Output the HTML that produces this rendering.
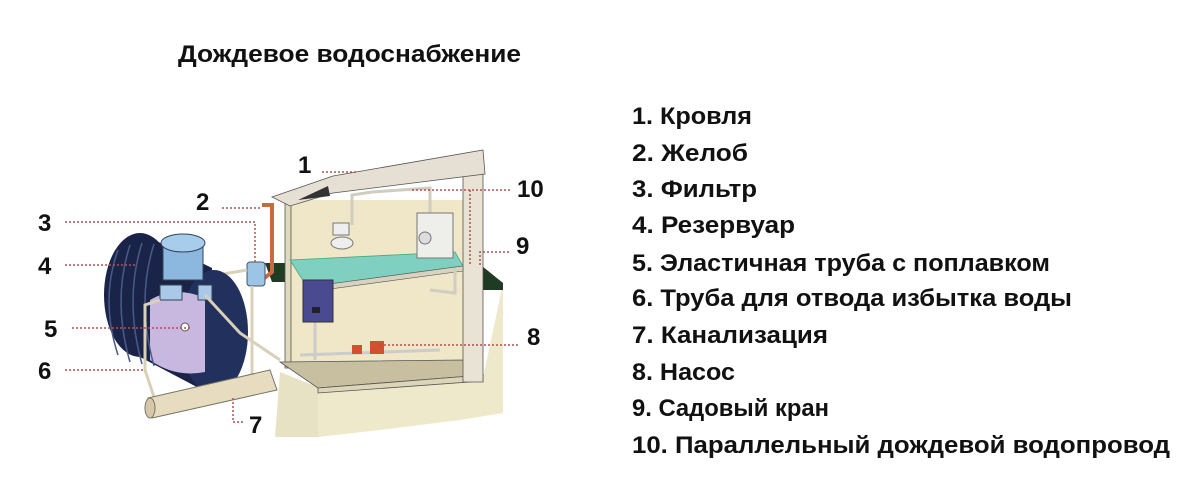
<!DOCTYPE html>
<html><head><meta charset="utf-8"><style>
html,body{margin:0;padding:0;background:#fff;width:1180px;height:479px;overflow:hidden}
svg{display:block}
.t{font-family:"Liberation Sans","Noto Sans CJK SC",sans-serif;font-weight:bold;font-size:24px;fill:#111}
.n{font-family:"Liberation Sans",sans-serif;font-weight:bold;font-size:24px;fill:#111}
.d{stroke:#b05050;stroke-width:1.5;stroke-dasharray:2 2;fill:none}
</style></head><body>
<svg width="1180" height="479" viewBox="0 0 1180 479">
<text class="t" x="178" y="62" textLength="343" lengthAdjust="spacingAndGlyphs">Дождевое водоснабжение</text>
<g class="t">
<text x="632" y="124" textLength="120" lengthAdjust="spacingAndGlyphs">1. Кровля</text>
<text x="632" y="161" textLength="116" lengthAdjust="spacingAndGlyphs">2. Желоб</text>
<text x="632" y="197" textLength="125" lengthAdjust="spacingAndGlyphs">3. Фильтр</text>
<text x="632" y="233" textLength="163" lengthAdjust="spacingAndGlyphs">4. Резервуар</text>
<text x="632" y="271" textLength="418" lengthAdjust="spacingAndGlyphs">5. Эластичная труба с поплавком</text>
<text x="632" y="306" textLength="440" lengthAdjust="spacingAndGlyphs">6. Труба для отвода избытка воды</text>
<text x="632" y="343" textLength="196" lengthAdjust="spacingAndGlyphs">7. Канализация</text>
<text x="632" y="380" textLength="103" lengthAdjust="spacingAndGlyphs">8. Насос</text>
<text x="632" y="416" textLength="197" lengthAdjust="spacingAndGlyphs">9. Садовый кран</text>
<text x="632" y="453" textLength="538" lengthAdjust="spacingAndGlyphs">10. Параллельный дождевой водопровод</text>
</g>
<!-- foundation -->
<polygon points="280,372 320,388 318,437 275,437" fill="#e8e2c4"/>
<polygon points="318,388 483,378 503,283 503,413 460,420 380,430 318,437" fill="#efe9cc"/>
<polygon points="477,262 503,283 503,290 477,290" fill="#1f3b24"/>
<polygon points="265,263 287,263 287,282 272,282" fill="#1f3b24"/>
<!-- back wall -->
<rect x="285" y="200" width="180" height="165" fill="#efe7c8"/>
<rect x="285" y="200" width="6" height="168" fill="#e0d8bc" stroke="#555" stroke-width="0.8"/>
<!-- floor slab -->
<polygon points="280,362 463,360 483,375 318,388" fill="#c8bfa0" stroke="#555" stroke-width="0.8"/>
<polygon points="318,388 483,375 483,381 318,393" fill="#ddd5b8" stroke="#555" stroke-width="0.8"/>
<!-- right column -->
<polygon points="463,175 483,170 483,382 463,382" fill="#e9e3d6" stroke="#555" stroke-width="0.8"/>
<!-- roof -->
<polygon points="272,197 333,176 483,150 485,174 333,193 290,206" fill="#e6e0d4" stroke="#555" stroke-width="0.8"/>
<polygon points="298,200 328,186 330,196" fill="#333"/>
<!-- shelf -->
<polygon points="290,260 455,252 463,266 307,287" fill="#7fd0c0" stroke="#4a7" stroke-width="0.8"/>
<polygon points="307,287 463,266 463,271 308,292" fill="#d8d2c0" stroke="#555" stroke-width="0.6"/>
<!-- pipes in house -->
<polyline points="372,192 430,188 430,215" fill="none" stroke="#d0ccc0" stroke-width="3"/>
<polyline points="372,192 352,195 352,225" fill="none" stroke="#d0ccc0" stroke-width="3"/>
<polyline points="455,268 455,293 430,290" fill="none" stroke="#d0ccc0" stroke-width="3"/>
<line x1="315" y1="320" x2="315" y2="360" stroke="#ccc" stroke-width="3"/>
<line x1="300" y1="355" x2="440" y2="350" stroke="#ccc" stroke-width="3"/>
<!-- toilet -->
<rect x="333" y="223" width="16" height="12" fill="#eee" stroke="#777"/>
<ellipse cx="342" cy="243" rx="11" ry="6" fill="#eee" stroke="#777"/>
<!-- washer -->
<rect x="417" y="213" width="36" height="45" fill="#eeeeea" stroke="#777"/>
<circle cx="425" cy="238" r="6" fill="#ddd" stroke="#777"/>
<!-- boiler -->
<rect x="303" y="280" width="30" height="42" fill="#4a4a90" stroke="#333"/>
<rect x="312" y="307" width="8" height="6" fill="#222"/>
<!-- pump -->
<rect x="352" y="345" width="10" height="9" fill="#d05030"/>
<rect x="370" y="341" width="14" height="13" fill="#d05030"/>
<!-- downpipe -->
<polyline points="262,205 272,205 272,272 262,280" fill="none" stroke="#c86a40" stroke-width="4"/>
<!-- filter -->
<rect x="247" y="262" width="18" height="24" rx="3" fill="#9cc4e4" stroke="#456"/>
<line x1="252" y1="286" x2="252" y2="385" stroke="#d8d0b8" stroke-width="3"/>
<polyline points="202,283 205,277 247,270" fill="none" stroke="#d8d0b8" stroke-width="3"/>
<!-- tank -->
<ellipse cx="140" cy="295" rx="36" ry="62" fill="#1a2448"/>
<polygon points="140,233 212,268 212,395 140,357" fill="#1a2448"/>
<ellipse cx="214" cy="332" rx="34" ry="62" fill="#22305e"/>
<path d="M150 300 Q175 285 205 298 L205 372 Q175 378 150 360 Z" fill="#c8b8e0"/>
<g stroke="#4a5a88" stroke-width="1.5" fill="none">
<path d="M118 250 Q100 300 118 355"/><path d="M130 245 Q112 300 130 362"/><path d="M142 243 Q124 300 142 364"/><path d="M154 244 Q136 300 154 366"/>
</g>
<!-- dome -->
<rect x="163" y="243" width="40" height="37" fill="#8cb8e0" stroke="#345"/>
<ellipse cx="183" cy="243" rx="22" ry="9" fill="#a8cceb" stroke="#345"/>
<rect x="160" y="285" width="22" height="15" fill="#aac8e8" stroke="#345"/>
<rect x="198" y="285" width="14" height="15" fill="#aac8e8" stroke="#345"/>
<circle cx="185" cy="327" r="4" fill="#fff" stroke="#555"/>
<polyline points="205,295 240,333 280,360" fill="none" stroke="#d8d0b8" stroke-width="3"/>
<polyline points="160,300 145,305 145,370 155,400" fill="none" stroke="#d8d0b8" stroke-width="3"/>
<!-- sewer pipe -->
<polygon points="148,398 270,370 277,390 152,418" fill="#e8dcc0" stroke="#776" stroke-width="1"/>
<ellipse cx="150" cy="408" rx="5" ry="10" fill="#d6c8a8" stroke="#776"/>
<!-- labels -->
<g class="n">
<text x="298" y="173">1</text><text x="196" y="210">2</text><text x="38" y="231">3</text>
<text x="38" y="274">4</text><text x="44" y="337">5</text><text x="38" y="379">6</text>
<text x="249" y="433">7</text><text x="527" y="345">8</text><text x="516" y="254">9</text><text x="517" y="197">10</text>
</g>
<g class="d">
<path d="M322 172 H357"/><path d="M222 208 H262"/><path d="M65 222 H255 V262"/>
<path d="M65 265 H135"/><path d="M72 328 H190"/><path d="M65 370 H145"/>
<path d="M233 398 V422 H245"/><path d="M412 190 H510"/><path d="M470 190 V266"/>
<path d="M480 265 V252 H510"/><path d="M380 345 H520"/>
</g>
</svg>
</body></html>
